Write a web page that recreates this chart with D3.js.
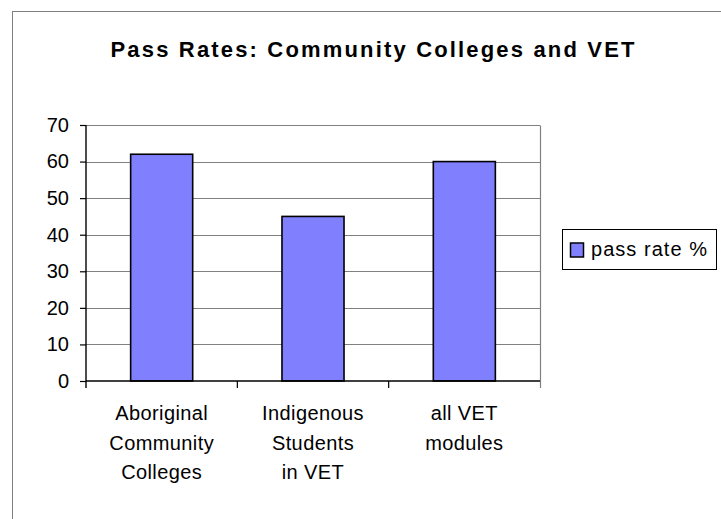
<!DOCTYPE html>
<html>
<head>
<meta charset="utf-8">
<script src="https://cdn.jsdelivr.net/npm/d3@7"></script>
<style>
  html, body { margin: 0; padding: 0; background: #fff; }
  svg { display: block; font-family: "Liberation Sans", Arial, Helvetica, sans-serif; }
</style>
</head>
<body>
<svg id="chart" width="721" height="519"></svg>
<script>
// Chart data
const categories = ["Aboriginal Community Colleges", "Indigenous Students in VET", "all VET modules"];
const categoryLines = [["Aboriginal", "Community", "Colleges"], ["Indigenous", "Students", "in VET"], ["all VET", "modules"]];
const passRates = [62, 45, 60];
const yTicks = [0, 10, 20, 30, 40, 50, 60, 70];
const seriesName = "pass rate %";
const chartTitle = "Pass Rates: Community Colleges and VET";

const svg = d3.select("#chart");

// Outer chart frame (runs off the right and bottom edges)
svg.append("rect")
  .attr("x", 12.5).attr("y", 11.5)
  .attr("width", 760).attr("height", 560)
  .attr("fill", "#fff").attr("stroke", "#7f7f7f").attr("stroke-width", 1);

// Title
svg.append("text")
  .attr("x", 110.5).attr("y", 57)
  .attr("textLength", 524).attr("lengthAdjust", "spacing")
  .attr("font-size", 22).attr("font-weight", "bold")
  .text(chartTitle);

// Plot area bounds
const plotLeft = 86, plotRight = 540, plotTop = 125, plotBottom = 381;

const x = d3.scaleBand()
  .domain(categories)
  .range([plotLeft, plotRight])
  .paddingInner(0.59)
  .paddingOuter(0.295);

const y = d3.scaleLinear()
  .domain([0, 70])
  .range([plotBottom, plotTop]);

// Horizontal gridlines
svg.append("g")
  .selectAll("line")
  .data(yTicks.filter(d => d > 0))
  .join("line")
  .attr("x1", plotLeft).attr("x2", plotRight)
  .attr("y1", d => Math.round(y(d)) + 0.5).attr("y2", d => Math.round(y(d)) + 0.5)
  .attr("stroke", "#808080").attr("stroke-width", 1);

// Right edge of the plot area
svg.append("line")
  .attr("x1", plotRight + 0.5).attr("x2", plotRight + 0.5)
  .attr("y1", Math.round(y(70)) + 0.5).attr("y2", plotBottom + 7)
  .attr("stroke", "#808080").attr("stroke-width", 1.2);

// Bars
svg.append("g")
  .selectAll("rect")
  .data(passRates)
  .join("rect")
  .attr("x", (d, i) => x(categories[i]))
  .attr("y", d => y(d))
  .attr("width", x.bandwidth())
  .attr("height", d => y(0) - y(d))
  .attr("fill", "#8080ff")
  .attr("stroke", "#000").attr("stroke-width", 1.6);

// Y axis
const yAxis = d3.axisLeft(y).tickValues(yTicks).tickSize(6).tickPadding(11).tickFormat(d3.format("d"));
const gy = svg.append("g")
  .attr("transform", `translate(${plotLeft},0)`)
  .call(yAxis);
gy.select(".domain").attr("stroke", "#000").attr("stroke-width", 1.4)
  .attr("d", `M0,${plotTop}V${plotBottom + 7}`);
gy.selectAll(".tick line").attr("stroke", "#000").attr("stroke-width", 1.2);
gy.selectAll(".tick text")
  .attr("font-size", 20).attr("fill", "#000")
  .attr("font-family", "Liberation Sans, Arial, sans-serif");

// X axis baseline
svg.append("line")
  .attr("x1", plotLeft).attr("x2", plotRight)
  .attr("y1", plotBottom).attr("y2", plotBottom)
  .attr("stroke", "#000").attr("stroke-width", 1.4);

// Category dividers at band boundaries
const dividers = categories.slice(1).map(c => x(c) - x.step() * x.paddingInner() / 2);
svg.append("g")
  .selectAll("line")
  .data(dividers)
  .join("line")
  .attr("x1", d => d).attr("x2", d => d)
  .attr("y1", plotBottom).attr("y2", plotBottom + 7)
  .attr("stroke", "#000")
  .attr("stroke-width", 1.2);

// Category labels
const labels = svg.append("g")
  .attr("font-size", 20)
  .attr("text-anchor", "middle")
  .attr("letter-spacing", 0.4)
  .selectAll("text")
  .data(categories)
  .join("text")
  .attr("x", d => x(d) + x.bandwidth() / 2)
  .attr("y", 420);
labels.selectAll("tspan")
  .data((d, i) => categoryLines[i])
  .join("tspan")
  .attr("x", function () { return this.parentNode.getAttribute("x"); })
  .attr("dy", (d, j) => j === 0 ? 0 : 29.5)
  .text(d => d);

// Legend
const legend = svg.append("g");
legend.append("rect")
  .attr("x", 562.5).attr("y", 229.5)
  .attr("width", 154).attr("height", 40)
  .attr("fill", "#fff").attr("stroke", "#000").attr("stroke-width", 1);
legend.append("rect")
  .attr("x", 570.5).attr("y", 243)
  .attr("width", 13).attr("height", 14)
  .attr("fill", "#8080ff").attr("stroke", "#000").attr("stroke-width", 1.5);
legend.append("text")
  .attr("x", 591).attr("y", 256)
  .attr("font-size", 20)
  .attr("textLength", 116).attr("lengthAdjust", "spacing")
  .text(seriesName);
</script>
</body>
</html>
